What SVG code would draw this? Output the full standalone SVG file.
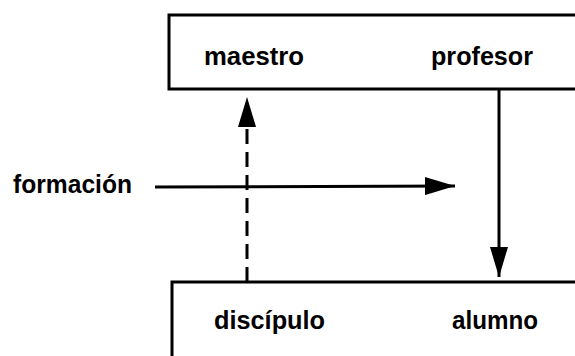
<svg xmlns="http://www.w3.org/2000/svg" width="575" height="356" viewBox="0 0 575 356">
<style>
.box{fill:none;stroke:#000;stroke-width:3}
.t{font-family:"Liberation Sans",Arial,sans-serif;font-weight:bold;font-size:25px;fill:#000}
.ln{fill:none;stroke:#000;stroke-width:3}
.dash{stroke-dasharray:15 8}
</style>
<defs>
<marker id="ah" viewBox="0 0 30 18" refX="30" refY="9" markerWidth="30" markerHeight="18" markerUnits="userSpaceOnUse" orient="auto">
<path d="M0,0 L30,9 L0,18 Z" fill="#000"/>
</marker>
</defs>
<rect width="575" height="356" fill="#fff"/>
<g id="top">
<path class="box" d="M580,15 H169 V89 H580"/>
<text class="t" x="204" y="65" textLength="100" lengthAdjust="spacingAndGlyphs">maestro</text>
<text class="t" x="431" y="65" textLength="102" lengthAdjust="spacingAndGlyphs">profesor</text>
</g>
<g id="bottom">
<path class="box" d="M580,282 H172 V360"/>
<text class="t" x="214" y="329" textLength="111" lengthAdjust="spacingAndGlyphs">discípulo</text>
<text class="t" x="452" y="329" textLength="86" lengthAdjust="spacingAndGlyphs">alumno</text>
</g>
<g id="formacion">
<text class="t" x="13" y="193" textLength="119" lengthAdjust="spacingAndGlyphs">formación</text>
</g>
<g id="connectors">
<line class="ln dash" x1="247" y1="282" x2="247" y2="126"/>
<path d="M238,127 L247,97 L256,127 Z" fill="#000"/>
<line class="ln" x1="499" y1="89" x2="499" y2="277" marker-end="url(#ah)"/>
<line class="ln" x1="155" y1="187" x2="455" y2="186" marker-end="url(#ah)"/>
</g>
</svg>
